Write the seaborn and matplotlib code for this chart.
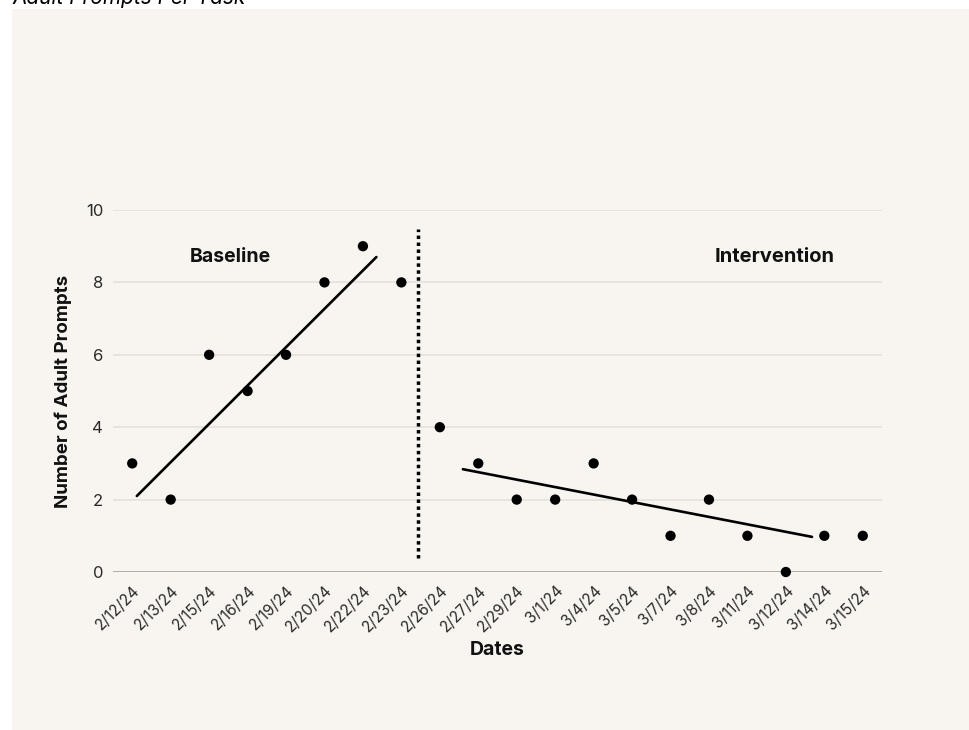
import numpy as np
import seaborn as sns
import matplotlib.pyplot as plt
from matplotlib.patches import Rectangle

# Data
dates = ['2/12/24', '2/13/24', '2/15/24', '2/16/24', '2/19/24', '2/20/24', '2/22/24',
         '2/23/24', '2/26/24', '2/27/24', '2/29/24', '3/1/24', '3/4/24', '3/5/24',
         '3/7/24', '3/8/24', '3/11/24', '3/12/24', '3/14/24', '3/15/24']
prompts = [3, 2, 6, 5, 6, 8, 9, 8, 4, 3, 2, 2, 3, 2, 1, 2, 1, 0, 1, 1]

# hand-drawn trend lines (data coordinates)
baseline_trend_x = [0.12, 6.35]
baseline_trend_y = [2.1, 8.7]
intervention_trend_x = [8.6, 17.68]
intervention_trend_y = [2.84, 0.97]

# phase change line
phase_x = 7.42
phase_y = [0.4, 9.47]

bg = '#f8f5f1'
sns.set_theme(style='white')
plt.rcParams['font.family'] = ['Inter', 'DejaVu Sans']

fig = plt.figure(figsize=(9.7, 7.3), dpi=100, facecolor='white')
fig.patches.append(Rectangle((12 / 970, 0), 1, 1 - 9 / 730, transform=fig.transFigure,
                             facecolor=bg, edgecolor='none', zorder=-10))
ax = fig.add_axes([113 / 970, 1 - 572 / 730, (882 - 113) / 970, (572 - 210) / 730])
ax.set_facecolor(bg)

x = np.arange(len(dates))

# grid
for v in range(2, 11, 2):
    ax.axhline(v, color='#e2dfda', lw=1.1, zorder=1)
ax.axhline(0, color='#9a9895', lw=1.1, zorder=1)

sns.scatterplot(x=x, y=prompts, color='black', s=55, edgecolor='none', ax=ax, zorder=3,
                clip_on=False)

ax.plot(baseline_trend_x, baseline_trend_y, color='black', lw=1.9, zorder=2)
ax.plot(intervention_trend_x, intervention_trend_y, color='black', lw=1.9, zorder=2)
ax.plot([phase_x, phase_x], phase_y, color='black', lw=2.5, linestyle=(0, (1, 1)), zorder=2)

ax.text(2.55, 8.7, 'Baseline', fontsize=14, fontweight='bold', ha='center', va='center',
        color='#111111')
ax.text(16.7, 8.7, 'Intervention', fontsize=14.5, fontweight='bold', ha='center', va='center',
        color='#111111')

ax.set_xlim(-0.5, 19.5)
ax.set_ylim(0, 10)
ax.set_yticks(range(0, 11, 2))
ax.set_xticks(x)
ax.set_xticklabels(dates, rotation=45, ha='right', rotation_mode='anchor')
ax.tick_params(axis='both', length=0, labelcolor='#2a2a2a')
ax.tick_params(axis='y', pad=7, labelsize=12)
ax.tick_params(axis='x', pad=8, labelsize=11)
for s in ax.spines.values():
    s.set_visible(False)

ax.set_xlabel('Dates', fontsize=14, fontweight='bold', color='#111111', labelpad=4)
ax.set_ylabel('Number of Adult Prompts', fontsize=13.5, fontweight='bold', color='#111111',
              labelpad=10)

fig.text(12 / 970, 1 - 4 / 730, 'Adult Prompts Per Task', fontsize=15, fontstyle='italic',
         ha='left', va='baseline', color='black')

fig.savefig('out.png', dpi=100, facecolor='white')
